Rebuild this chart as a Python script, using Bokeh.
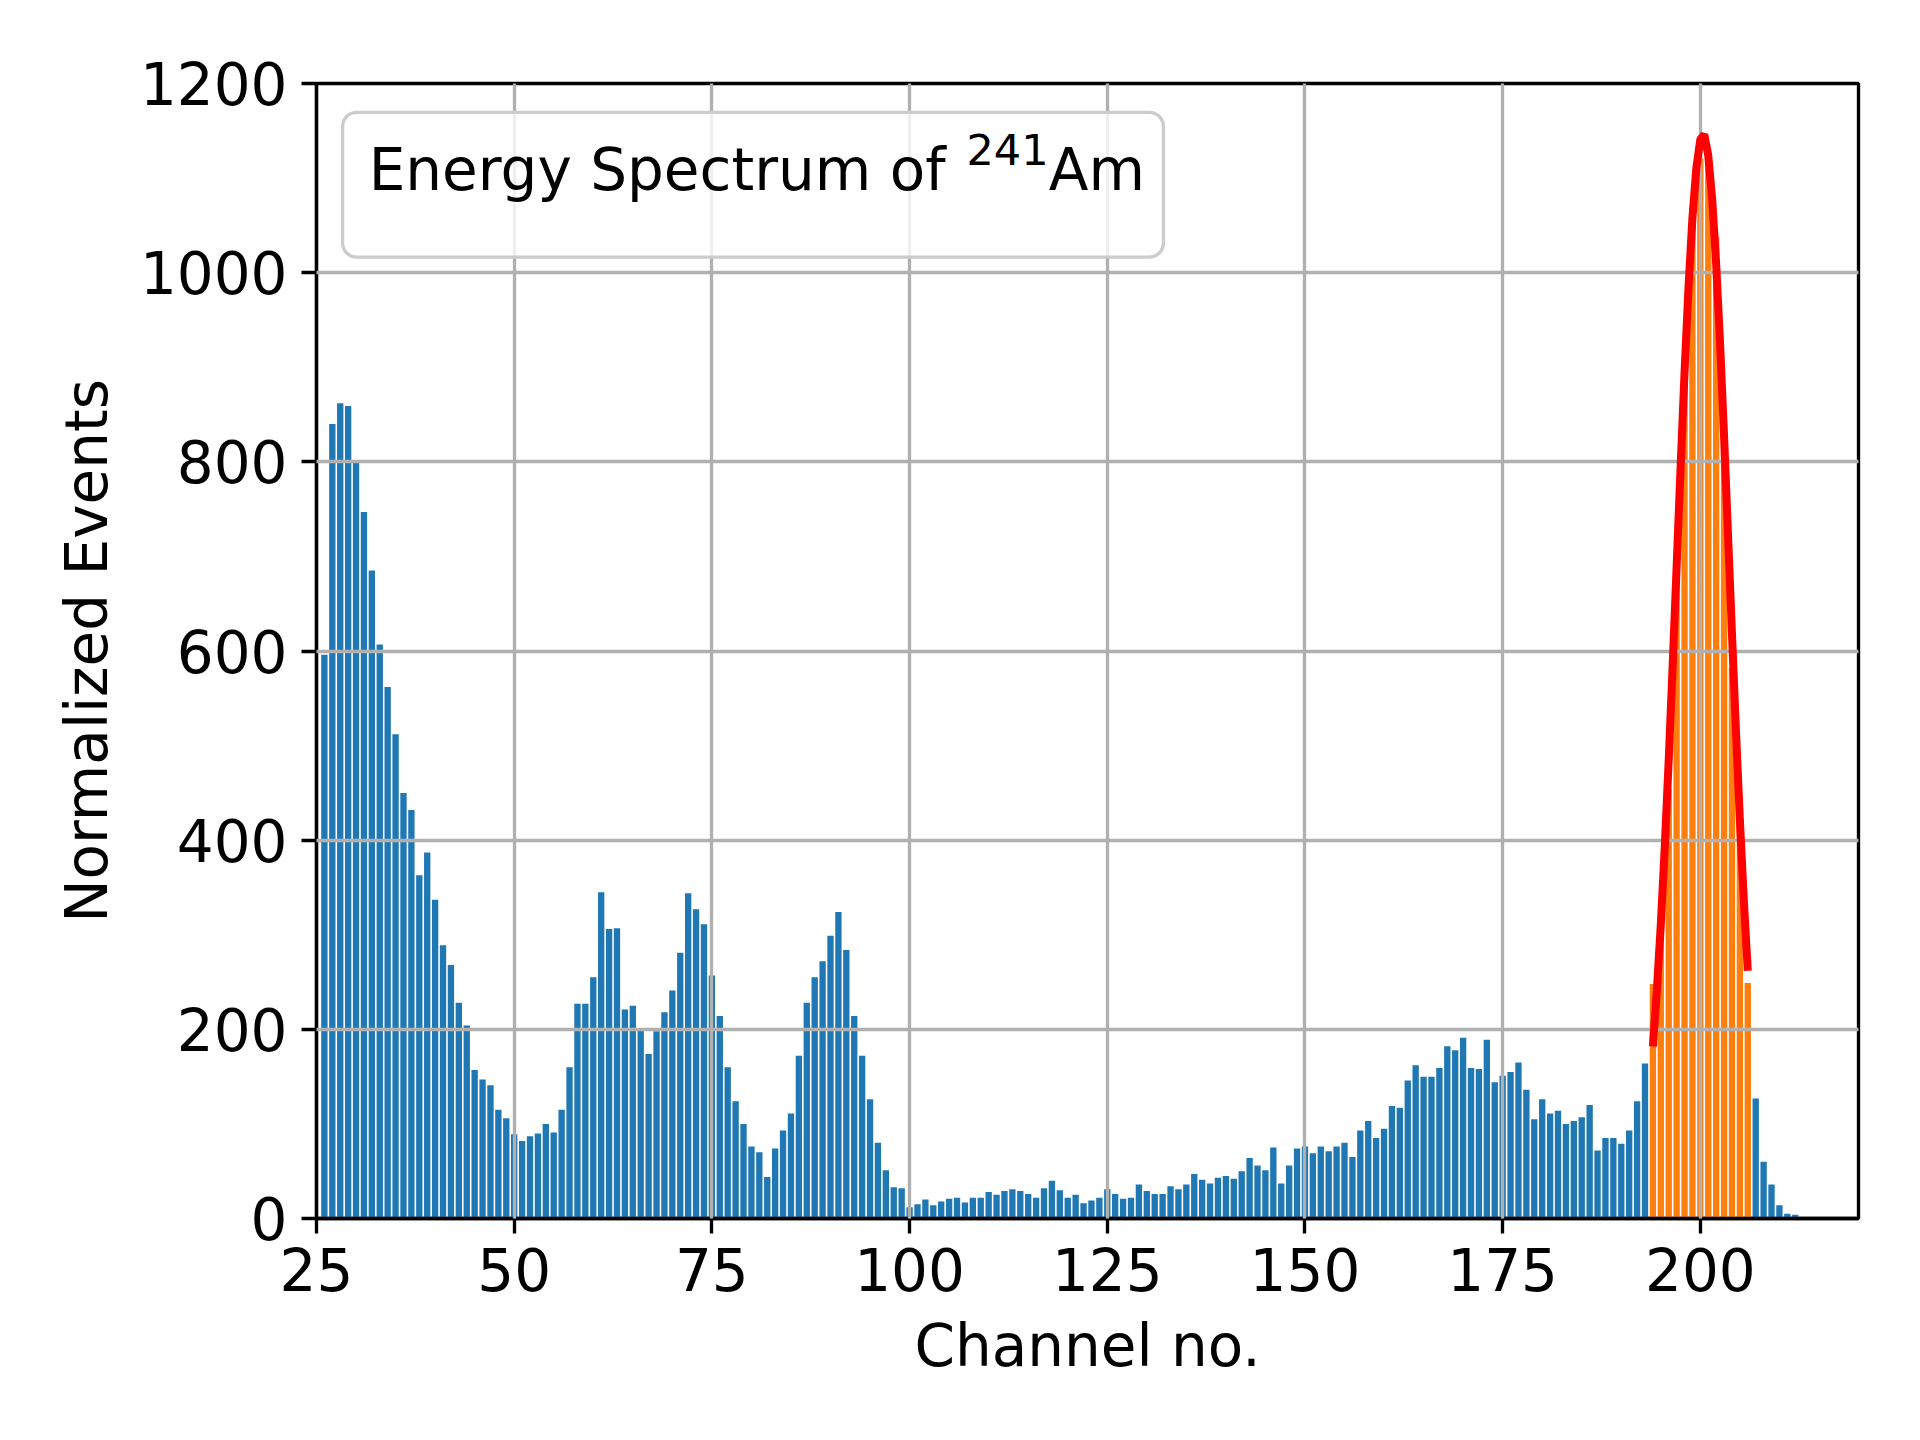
import numpy as np
from bokeh.plotting import figure
from bokeh.models import Range1d, FixedTicker, BoxAnnotation, Label
from bokeh.embed import file_html
from bokeh.resources import INLINE

# ---- data ----
channels = list(range(26, 214))
counts = [
    596, 840, 862, 859, 800, 747, 685, 607, 562, 512,   # 26-35
    450, 432, 363, 387, 337, 289, 268, 228, 204, 157,   # 36-45
    147, 141, 115, 106, 89, 82, 87, 90, 100, 91,        # 46-55
    115, 160, 227, 227, 255, 345, 306, 307, 221, 225,   # 56-65
    199, 174, 198, 218, 241, 281, 344, 327, 311, 257,   # 66-75
    214, 160, 124, 100, 76, 70, 44, 74, 93, 111,        # 76-85
    172, 228, 255, 272, 299, 324, 284, 214, 172, 126,   # 86-95
    80, 51, 33, 32, 12, 15, 20, 14, 18, 21,             # 96-105
    22, 17, 22, 22, 28, 25, 29, 31, 29, 26,             # 106-115
    22, 32, 40, 30, 22, 25, 16, 19, 22, 31,             # 116-125
    26, 21, 22, 36, 29, 26, 26, 34, 31, 36,             # 126-135
    47, 41, 37, 43, 45, 42, 50, 64, 56, 51,             # 136-145
    75, 37, 56, 74, 76, 69, 76, 71, 76, 80,             # 146-155
    65, 93, 103, 85, 95, 119, 117, 146, 162, 150,       # 156-165
    150, 159, 182, 178, 191, 159, 158, 189, 144, 151,   # 166-175
    155, 165, 136, 105, 126, 111, 114, 100, 103, 107,   # 176-185
    120, 72, 85, 85, 79, 93, 124, 164, 248, 319,        # 186-195
    454, 700, 905, 1070, 1121, 1128, 1038, 830, 582, 446,  # 196-205
    249, 127, 60, 36, 14, 5, 4, 1,                      # 206-213
]
fit_first, fit_last = 194, 206
fit_x = list(np.arange(194.0, 206.01, 0.5))
fit_y = [182, 241, 311, 393, 485, 585, 689, 794, 894, 984, 1058, 1111, 1141,
         1146, 1124, 1077, 1009, 924, 827, 723, 618, 516, 421, 336, 262]
x_ticks = [25, 50, 75, 100, 125, 150, 175, 200]
y_ticks = [0, 200, 400, 600, 800, 1000, 1200]
legend_main = "Energy Spectrum of "
legend_sup = "241"
legend_tail = "Am"

ch = np.array(channels)
ct = np.array(counts)
in_fit = (ch >= fit_first) & (ch <= fit_last)

FONT = "DejaVu Sans"
FS = "58px"
FS_SUP = "43px"
LW = 3.33

p = figure(width=1900, height=1420,
           x_range=Range1d(25, 220), y_range=Range1d(0, 1200),
           output_backend="svg", toolbar_location=None,
           min_border_left=316, min_border_right=42,
           min_border_top=83, min_border_bottom=202,
           background_fill_color="white", border_fill_color="white")

p.vbar(x=ch[~in_fit], top=ct[~in_fit], width=0.8, bottom=0,
       fill_color="#1f77b4", line_color=None)
p.vbar(x=ch[in_fit], top=ct[in_fit], width=0.8, bottom=0,
       fill_color="#ff7f0e", line_color=None)
fit_r = p.line(fit_x, fit_y, line_color="#ff0000", line_width=8)
fit_r.level = "annotation"

p.xaxis.ticker = FixedTicker(ticks=x_ticks)
p.yaxis.ticker = FixedTicker(ticks=y_ticks)
p.xaxis.axis_label = "Channel no."
p.yaxis.axis_label = "Normalized Events"

for ax in (p.xaxis, p.yaxis):
    ax.axis_label_text_font = FONT
    ax.axis_label_text_font_size = FS
    ax.axis_label_text_font_style = "normal"
    ax.axis_label_text_color = "black"
    ax.major_label_text_font = FONT
    ax.major_label_text_font_size = FS
    ax.major_label_text_color = "black"
    ax.axis_line_width = LW
    ax.axis_line_color = "black"
    ax.major_tick_line_width = LW
    ax.major_tick_line_color = "black"
    ax.major_tick_out = 15
    ax.major_tick_in = 0
    ax.minor_tick_line_color = None
    ax.major_label_standoff = 14
p.xaxis.axis_label_standoff = 18
p.yaxis.axis_label_standoff = 16

p.grid.grid_line_color = "#b0b0b0"
p.grid.grid_line_width = LW
p.grid.level = "guide"

p.outline_line_color = "black"
p.outline_line_width = LW
p.outline_line_alpha = 1.0

box = BoxAnnotation(left=28.3, right=132.1, top=1169.4, bottom=1016.5,
                    fill_color="white", fill_alpha=0.8,
                    line_color="#cccccc", line_width=LW, line_alpha=1.0,
                    border_radius=14)
p.add_layout(box)
common = dict(text_font=FONT, text_color="black",
              text_baseline="alphabetic", text_align="left")
p.add_layout(Label(x=31.6, y=1109, text=legend_main, text_font_size=FS, **common))
p.add_layout(Label(x=107.2, y=1130, text=legend_sup, text_font_size=FS_SUP, **common))
p.add_layout(Label(x=117.6, y=1109, text=legend_tail, text_font_size=FS, **common))

open("out.html", "w").write(file_html(p, INLINE))
